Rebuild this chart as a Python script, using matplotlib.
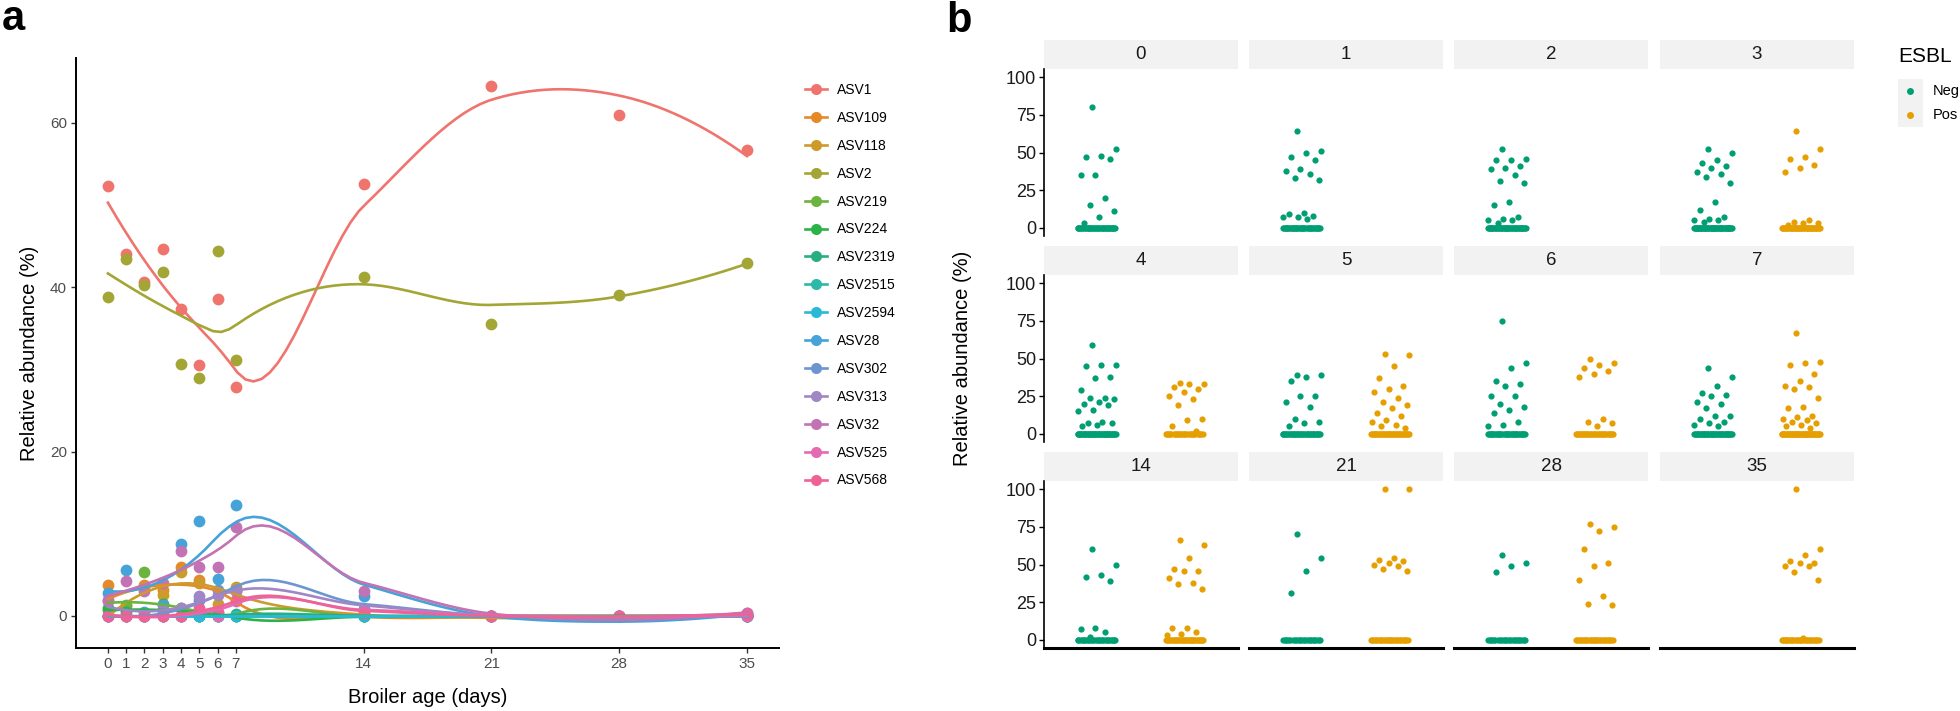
import numpy as np
import matplotlib
matplotlib.use("Agg")
import matplotlib.pyplot as plt
from matplotlib.lines import Line2D
from matplotlib.patches import Rectangle

plt.rcParams['font.family'] = ['Liberation Sans', 'DejaVu Sans']

# -----------------------------
# data, panel a (mean relative abundance per ASV and day)
# -----------------------------
days_a = [0, 1, 2, 3, 4, 5, 6, 7, 14, 21, 28, 35]
asv_names = ["ASV1", "ASV109", "ASV118", "ASV2", "ASV219", "ASV224", "ASV2319",
             "ASV2515", "ASV2594", "ASV28", "ASV302", "ASV313", "ASV32", "ASV525", "ASV568"]
asv_colors = ["#F0746E", "#E6892A", "#CD9A2C", "#A3A535", "#6DB33F", "#2BB34A", "#27B07E",
              "#2CB9A8", "#29B9D6", "#45A3DA", "#6E95D0", "#A186C6", "#C173B4", "#E26BB3", "#EE6297"]

asv1 = [52.3, 44.0, 40.7, 44.6, 37.3, 30.5, 38.6, 27.9, 52.6, 64.5, 61.0, 56.7]
asv109 = [3.8, 0.0, 3.8, 3.2, 6.0, 4.4, 0.3, 3.0, 0.0, 0.0, 0.0, 0.0]
asv118 = [0.0, 1.2, 3.5, 2.6, 5.4, 4.0, 1.5, 3.5, 0.0, 0.0, 0.0, 0.0]
asv2 = [38.8, 43.4, 40.3, 41.8, 30.7, 29.0, 44.4, 31.2, 41.3, 35.5, 39.1, 42.9]
asv219 = [0.7, 1.3, 5.3, 0.0, 0.0, 0.0, 0.0, 0.0, 0.0, 0.0, 0.0, 0.0]
asv224 = [1.0, 0.5, 0.0, 1.5, 1.0, 0.0, 0.0, 0.0, 0.0, 0.0, 0.0, 0.0]
asv2319 = [0.0, 0.0, 0.0, 0.0, 0.0, 0.0, 0.0, 0.2, 0.0, 0.0, 0.0, 0.0]
asv2515 = [0.0, 0.0, 0.0, 0.0, 0.0, 0.0, 0.0, 0.0, 0.0, 0.0, 0.0, 0.0]
asv2594 = [0.0, 0.0, 0.0, 0.0, 0.0, 0.0, 0.0, 0.0, 0.0, 0.0, 0.0, 0.0]
asv28 = [2.8, 5.6, 0.5, 1.3, 8.8, 11.6, 4.5, 13.5, 2.4, 0.0, 0.0, 0.0]
asv302 = [0.0, 0.0, 0.0, 0.5, 0.0, 1.9, 3.2, 3.2, 0.9, 0.0, 0.0, 0.1]
asv313 = [1.8, 0.0, 0.0, 0.8, 1.0, 2.4, 2.6, 3.0, 0.9, 0.0, 0.0, 0.3]
asv32 = [1.9, 4.3, 3.0, 4.0, 7.9, 6.0, 6.0, 10.8, 3.0, 0.0, 0.0, 0.3]
asv525 = [0.0, 0.0, 0.0, 0.0, 0.0, 0.5, 0.0, 1.8, 0.5, 0.0, 0.0, 0.0]
asv568 = [0.0, 0.0, 0.0, 0.0, 0.0, 1.0, 0.5, 2.0, 0.3, 0.0, 0.0, 0.2]
asv_values = [asv1, asv109, asv118, asv2, asv219, asv224, asv2319, asv2515,
              asv2594, asv28, asv302, asv313, asv32, asv525, asv568]

# -----------------------------
# data, panel b (per-sample relative abundance, by day and ESBL status)
# -----------------------------
days_b = [0, 1, 2, 3, 4, 5, 6, 7, 14, 21, 28, 35]
neg_values = [
    [80, 52, 48, 47, 46, 35, 35, 20, 15, 11, 7, 3],
    [64, 51, 50, 47, 45, 39, 38, 36, 33, 32, 10, 9, 8, 7, 7, 6],
    [52, 46, 45, 45, 41, 40, 39, 35, 31, 30, 17, 15, 7, 6, 5, 5, 3],
    [52, 50, 45, 43, 41, 40, 37, 36, 34, 30, 17, 12, 7, 6, 5, 5, 4],
    [59, 46, 46, 45, 38, 37, 29, 24, 24, 23, 21, 20, 19, 16, 15, 8, 7, 7, 6, 5],
    [39, 39, 38, 35, 25, 25, 21, 18, 10, 8, 7, 5],
    [75, 47, 44, 35, 33, 32, 25, 25, 20, 18, 16, 14, 8, 6, 5],
    [44, 38, 32, 27, 26, 25, 21, 20, 17, 12, 12, 10, 8, 7, 6, 5],
    [60, 50, 43, 42, 39, 8, 7, 5, 2],
    [70, 54, 46, 31],
    [56, 51, 49, 45],
    [],
]
pos_values = [
    [],
    [],
    [],
    [64, 52, 47, 46, 42, 40, 37, 5, 4, 3, 3, 2],
    [34, 33, 33, 31, 30, 28, 25, 23, 19, 10, 9, 5, 2],
    [53, 52, 45, 37, 32, 30, 28, 24, 21, 19, 17, 14, 12, 9, 8, 6, 5, 4],
    [50, 47, 46, 44, 42, 40, 38, 10, 8, 7, 5],
    [67, 48, 47, 46, 40, 35, 32, 31, 30, 24, 18, 17, 12, 11, 10, 9, 8, 7, 6, 5, 4],
    [66, 63, 54, 47, 46, 46, 41, 38, 37, 34, 8, 8, 5, 4, 3],
    [100, 100, 54, 53, 52, 51, 50, 49, 47, 46],
    [77, 75, 72, 60, 51, 49, 40, 29, 24, 23],
    [100, 60, 56, 52, 51, 51, 49, 49, 45, 40, 1],
]
neg_zeros = [40, 40, 45, 50, 50, 40, 40, 45, 30, 25, 25, 0]
pos_zeros = [0, 0, 0, 45, 30, 40, 35, 50, 35, 30, 30, 30]
esbl_colors = {"Neg": "#009E73", "Pos": "#E69F00"}


def loess(x, y, xs, span=0.75, cell=0.2):
    # local quadratic fit with tricube weights, evaluated at kd-tree vertices
    # and joined by cubic Hermite interpolation (as R's loess / geom_smooth)
    x = np.asarray(x, float)
    y = np.asarray(y, float)
    n = len(x)
    q = int(np.floor(n * span))

    def local(x0):
        d = np.abs(x - x0)
        h = np.sort(d)[q - 1]
        w = np.clip(1 - (d / h) ** 3, 0, None) ** 3
        X = np.vstack([np.ones_like(x), x - x0, (x - x0) ** 2]).T
        sw = np.sqrt(w)
        beta = np.linalg.lstsq(X * sw[:, None], y * sw, rcond=None)[0]
        return beta[0], beta[1]

    xsrt = np.sort(x)
    mu = 0.005 * (xsrt[-1] - xsrt[0])
    lo0, hi0 = xsrt[0] - mu, xsrt[-1] + mu
    verts = {lo0, hi0}
    fc = int(np.floor(n * span * cell))

    def split(l, u, lo, hi):
        # l, u are 1-based indices into the sorted x
        if u - l + 1 <= fc:
            return
        m = (l + u) // 2
        t = xsrt[m - 1]
        if t == lo or t == hi:
            return
        verts.add(t)
        split(l, m, lo, t)
        split(m + 1, u, t, hi)

    split(1, n, lo0, hi0)
    v = np.array(sorted(verts))
    fv = np.array([local(t) for t in v])
    out = []
    for x0 in xs:
        j = min(max(np.searchsorted(v, x0, side="right") - 1, 0), len(v) - 2)
        h = v[j + 1] - v[j]
        t = (x0 - v[j]) / h
        h00 = 2 * t**3 - 3 * t**2 + 1
        h10 = t**3 - 2 * t**2 + t
        h01 = -2 * t**3 + 3 * t**2
        h11 = t**3 - t**2
        out.append(h00 * fv[j, 0] + h10 * h * fv[j, 1] + h01 * fv[j + 1, 0] + h11 * h * fv[j + 1, 1])
    return np.array(out)


W, H = 1960, 711
fig = plt.figure(figsize=(19.6, 7.11), dpi=100)


def box(l, t, r, b):
    return [l / W, 1 - b / H, (r - l) / W, (b - t) / H]


# -----------------------------
# panel a
# -----------------------------
ax = fig.add_axes(box(76, 58, 779, 648))
grid = np.linspace(0, 35, 80)
for vals, c in zip(asv_values, asv_colors):
    ax.scatter(days_a, vals, s=72, color=c, linewidths=0, zorder=2)
for vals, c in zip(asv_values, asv_colors):
    ax.plot(grid, loess(days_a, vals, grid), color=c, lw=1.9, zorder=3)

ax.set_xlim(-1.75, 36.75)
ax.set_ylim(-3.9, 67.9)
ax.set_xticks(days_a)
ax.set_yticks([0, 20, 40, 60])
for s in ["top", "right"]:
    ax.spines[s].set_visible(False)
for s in ["left", "bottom"]:
    ax.spines[s].set_linewidth(1.4)
ax.tick_params(length=3.5, width=1, color="#333333", labelcolor="#4D4D4D", labelsize=11, pad=3)
ax.set_xlabel("Broiler age (days)", fontsize=14.5, labelpad=12)
ax.set_ylabel("Relative abundance (%)", fontsize=14.5, labelpad=8)

handles = [Line2D([], [], color=c, marker="o", markersize=8, lw=1.9, markeredgewidth=0)
           for c in asv_colors]
ax.legend(handles, asv_names, loc="upper left", bbox_to_anchor=(805 / W, 1 - 83 / H),
          bbox_transform=fig.transFigure, frameon=False, fontsize=10, handlelength=1.6,
          handletextpad=0.7, labelspacing=1.0, borderpad=0, borderaxespad=0)

fig.text(2 / W, 1 - 30 / H, "a", fontsize=30, fontweight="bold", va="baseline")

# -----------------------------
# panel b (facets 3 x 4)
# -----------------------------
col_edges = [(1044, 1238), (1249, 1443), (1454, 1648), (1660, 1854)]
row_edges = [(69, 236), (275, 442), (481, 648)]
strip_h = 29

for i, day in enumerate(days_b):
    r, c = divmod(i, 4)
    l, rr = col_edges[c]
    t, b = row_edges[r]
    axb = fig.add_axes(box(l, t, rr, b))
    for pos, label, vals, nz in [(1, "Neg", neg_values[i], neg_zeros[i]),
                                 (2, "Pos", pos_values[i], pos_zeros[i])]:
        y = np.array(list(vals) + [0] * nz, float)
        k = np.arange(len(y))
        # deterministic jitter spread across the group width
        xj = pos + ((k * 0.618034 + 0.37) % 1 - 0.5) * 0.44
        axb.scatter(xj, y, s=20, color=esbl_colors[label], linewidths=0, zorder=2)
    axb.set_xlim(0.4, 2.6)
    axb.set_ylim(-5.3, 105.3)
    axb.set_xticks([])
    for s in ["top", "right"]:
        axb.spines[s].set_visible(False)
    if c == 0:
        axb.set_yticks([0, 25, 50, 75, 100])
        axb.spines["left"].set_linewidth(1.2)
        axb.tick_params(axis="y", length=3.5, width=1, labelsize=13, labelcolor="#1A1A1A", pad=2)
    else:
        axb.set_yticks([])
        axb.spines["left"].set_visible(False)
    if r == 2:
        axb.spines["bottom"].set_linewidth(2.2)
    else:
        axb.spines["bottom"].set_visible(False)
    axb.add_patch(Rectangle((0, 1), 1, strip_h / (b - t), transform=axb.transAxes,
                            clip_on=False, facecolor="#F2F2F2", edgecolor="none"))
    axb.text(0.5, 1 + strip_h / (b - t) / 2, str(day), transform=axb.transAxes,
             ha="center", va="center", fontsize=13.5, color="#1A1A1A")

fig.text(962 / W, 1 - 358 / H, "Relative abundance (%)", rotation=90, fontsize=14.5,
         ha="center", va="center")
fig.text(946 / W, 1 - 32 / H, "b", fontsize=30, fontweight="bold", va="baseline")

# legend, panel b
fig.text(1898 / W, 1 - 57 / H, "ESBL", fontsize=15, va="center", ha="left")
fig.add_artist(Rectangle((1898 / W, 1 - 127 / H), 25 / W, 48 / H, transform=fig.transFigure,
                         facecolor="#F2F2F2", edgecolor="none"))
for yk, label in [(91, "Neg"), (115, "Pos")]:
    fig.add_artist(Line2D([1910 / W], [1 - yk / H], transform=fig.transFigure, marker="o",
                          markersize=5, color=esbl_colors[label], markeredgewidth=0))
    fig.text(1933 / W, 1 - yk / H, label, fontsize=10.5, va="center", ha="left")

fig.savefig("out.png", dpi=100)
